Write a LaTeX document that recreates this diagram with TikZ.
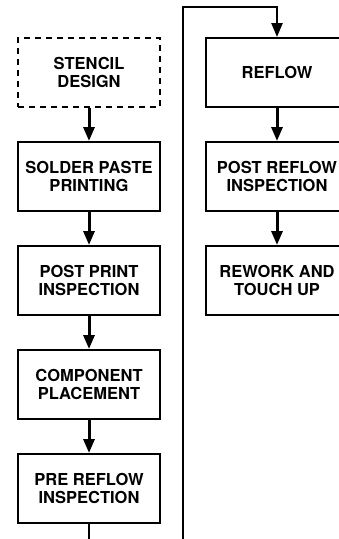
\documentclass[tikz,border=0pt]{standalone}
\usepackage{fontspec}
\setmainfont{TeX Gyre Heros}
\usepackage{tikz}
\usetikzlibrary{positioning}
\usetikzlibrary{arrows.meta}
\tikzset{
process_box/.style={rectangle, draw, line width=2pt, minimum width=142pt, minimum height=69pt, align=center, font=\fontsize{16.5}{18}\selectfont\bfseries, inner sep=0pt},
design_box/.style={process_box, dash pattern=on 6pt off 5pt},
flow_arrow/.style={-{Triangle[width=11pt,length=14pt]}, line width=3pt},
loop_line/.style={line width=2pt}
}
\begin{document}
\begin{tikzpicture}[x=1pt, y=-1pt, node distance=33pt]
    \useasboundingbox (0,0) rectangle (339,539);
    \clip (0,0) rectangle (339,539);
    % left column
    \node[design_box] (stencil) at (89,72.5) {STENCIL\\DESIGN};
    \node[process_box] (paste_print) [below=of stencil] {SOLDER PASTE\\PRINTING};
    \node[process_box] (post_print) [below=of paste_print] {POST PRINT\\INSPECTION};
    \node[process_box] (placement) [below=of post_print] {COMPONENT\\PLACEMENT};
    \node[process_box] (pre_reflow) [below=of placement] {PRE REFLOW\\INSPECTION};
    % right column
    \node[process_box] (reflow) at (277,72.5) {REFLOW};
    \node[process_box] (post_reflow) [below=of reflow] {POST REFLOW\\INSPECTION};
    \node[process_box] (rework) [below=of post_reflow] {REWORK AND\\TOUCH UP};
    \draw[flow_arrow] (stencil) -- (paste_print);
    \draw[flow_arrow] (paste_print) -- (post_print);
    \draw[flow_arrow] (post_print) -- (placement);
    \draw[flow_arrow] (placement) -- (pre_reflow);
    \draw[flow_arrow] (reflow) -- (post_reflow);
    \draw[flow_arrow] (post_reflow) -- (rework);
    % return path round the columns
    \coordinate (turn_low) at (183,545);
    \coordinate (turn_high) at (183,7);
    \coordinate (reflow_in) at (277,7);
    \draw[loop_line] (pre_reflow.south) |- (turn_low) -- (turn_high) -- (reflow_in);
    \draw[flow_arrow, line width=2.5pt] ([yshift=1pt]reflow_in) -- (reflow);
\end{tikzpicture}
\end{document}
